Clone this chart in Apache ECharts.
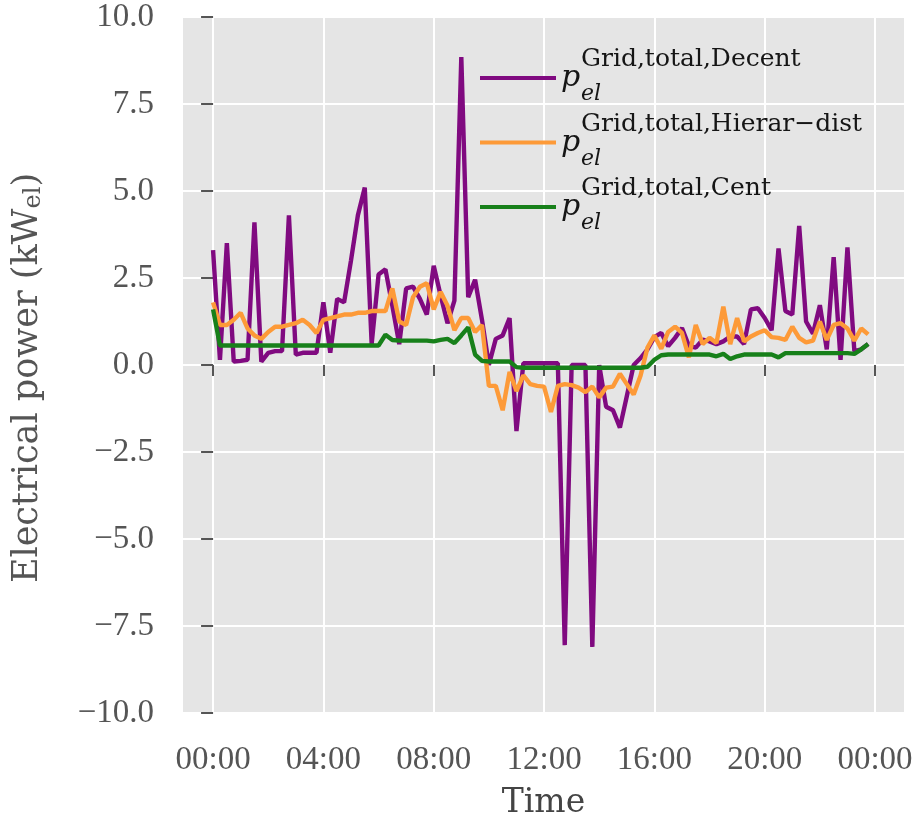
<!DOCTYPE html>
<html>
<head>
<meta charset="utf-8">
<script src="https://cdn.jsdelivr.net/npm/echarts@6/dist/echarts.min.js"></script>
<style>
  html, body { margin: 0; padding: 0; background: #ffffff; }
  #chart { width: 919px; height: 825px; }
</style>
</head>
<body>
<div id="chart"></div>
<script>
// Grid exchange over one day, 15-minute resolution (96 steps), in kW_el
const stepHours = 0.25;

const decent = [
  3.3, 0.15, 3.5, 0.1, 0.12, 0.15, 4.1, 0.1, 0.35, 0.4,
  0.4, 4.3, 0.3, 0.35, 0.35, 0.35, 1.8, 0.35, 1.9, 1.8,
  3.0, 4.3, 5.1, 0.6, 2.6, 2.75, 1.7, 0.6, 2.2, 2.25,
  1.9, 1.45, 2.85, 2.0, 1.2, 1.85, 8.85, 1.95, 2.45, 1.3,
  0.0, 0.75, 0.85, 1.35, -1.9, 0.05, 0.05, 0.05, 0.05, 0.05,
  0.05, -8.05, 0.0, 0.0, 0.0, -8.1, 0.0, -1.2, -1.3, -1.8,
  -0.9, 0.0, 0.2, 0.45, 0.8, 0.92, 0.54, 0.78, 1.06, 0.55,
  0.5, 0.73, 0.68, 0.6, 0.68, 0.82, 0.82, 0.6, 1.6, 1.63,
  1.35, 1.0, 3.35, 1.55, 1.45, 4.0, 1.25, 0.9, 1.72, 0.45,
  3.1, 0.15, 3.38, 0.4, 0.45, 0.6
];

const hierarDist = [
  1.8, 1.15, 1.15, 1.3, 1.5, 1.05, 0.85, 0.75, 0.95, 1.1,
  1.1, 1.15, 1.2, 1.3, 1.15, 0.92, 1.3, 1.35, 1.4, 1.45,
  1.45, 1.5, 1.5, 1.55, 1.55, 1.55, 2.2, 1.25, 1.15, 1.95,
  2.25, 2.35, 1.6, 2.1, 1.7, 1.0, 1.35, 1.35, 0.95, 1.15,
  -0.6, -0.6, -1.3, -0.2, -0.75, -0.3, -0.55, -0.6, -0.62, -1.35,
  -0.6, -0.55, -0.58, -0.65, -0.78, -0.62, -0.93, -0.65, -0.62, -0.25,
  -0.55, -0.85, -0.3, 0.5, 0.85, 0.47, 0.95, 1.1, 0.92, 0.22,
  1.15, 0.6, 0.78, 0.63, 1.68, 0.6, 1.35, 0.68, 0.82, 0.92,
  1.0, 0.8, 0.78, 0.72, 1.1, 0.78, 0.65, 0.7, 1.25, 0.72,
  1.15, 1.2, 1.05, 0.7, 1.05, 0.88
];

const cent = [
  1.6, 0.56, 0.56, 0.56, 0.56, 0.56, 0.56, 0.56, 0.56, 0.56,
  0.56, 0.56, 0.56, 0.56, 0.56, 0.56, 0.56, 0.56, 0.56, 0.56,
  0.56, 0.56, 0.56, 0.56, 0.56, 0.87, 0.72, 0.7, 0.7, 0.7,
  0.7, 0.7, 0.68, 0.72, 0.75, 0.63, 0.85, 1.08, 0.3, 0.12,
  0.1, 0.1, 0.1, 0.1, -0.06, -0.08, -0.08, -0.08, -0.08, -0.08,
  -0.08, -0.08, -0.08, -0.08, -0.08, -0.08, -0.08, -0.08, -0.08, -0.08,
  -0.08, -0.08, -0.08, -0.05, 0.15, 0.28, 0.3, 0.3, 0.3, 0.3,
  0.3, 0.3, 0.3, 0.25, 0.32, 0.17, 0.25, 0.3, 0.3, 0.3,
  0.3, 0.3, 0.22, 0.34, 0.34, 0.34, 0.34, 0.34, 0.34, 0.34,
  0.34, 0.34, 0.34, 0.32, 0.45, 0.6
];

const seriesNames = ['Decent', 'Hierar\u2212dist', 'Cent'];
const seriesColors = ['#800a80', '#fd9a38', '#17801a'];

const tickHours = [0, 4, 8, 12, 16, 20, 24];
const tickLabels = ['00:00', '04:00', '08:00', '12:00', '16:00', '20:00', '00:00'];

const numFont = '"Liberation Serif", serif';
const textFont = '"DejaVu Serif", serif';

function toPairs(values) {
  return values.map((v, i) => [i * stepHours, v]);
}

const chart = echarts.init(document.getElementById('chart'), null, { renderer: 'canvas' });

chart.setOption({
  backgroundColor: '#ffffff',
  animation: false,
  grid: {
    left: 183, right: 15, top: 17, bottom: 105,
    show: true, backgroundColor: '#e5e5e5', borderWidth: 0
  },
  legend: {
    orient: 'vertical',
    left: 480, top: 47,
    padding: 0,
    itemGap: 6,
    itemWidth: 76, itemHeight: 4,
    icon: 'rect',
    data: seriesNames,
    // superscript row, symbol row, subscript row
    formatter: name => `{sp|}{sup|Grid,total,${name}}\n{p|p}\n{sp|}{sub|el}`,
    textStyle: {
      color: '#151515',
      padding: [0, 0, 5, 0],
      rich: {
        sp: { width: 20, lineHeight: 16 },
        sup: { fontFamily: textFont, fontSize: 25, lineHeight: 22, color: '#151515' },
        p: { fontFamily: textFont, fontSize: 30, fontStyle: 'italic', lineHeight: 16, color: '#151515' },
        sub: { fontFamily: textFont, fontSize: 22, fontStyle: 'italic', lineHeight: 16, color: '#151515' }
      }
    }
  },
  xAxis: {
    type: 'value',
    min: -1.09, max: 25.05,
    offset: 4,
    axisLine: { show: false },
    axisTick: {
      show: true, length: 11, customValues: tickHours,
      lineStyle: { color: '#555555', width: 2 }
    },
    axisLabel: {
      customValues: tickHours,
      formatter: v => tickLabels[tickHours.indexOf(v)],
      fontFamily: numFont, fontSize: 33, color: '#555555', margin: 27
    },
    splitLine: { show: true, lineStyle: { color: '#ffffff', width: 2 } },
    name: 'Time',
    nameLocation: 'middle',
    nameGap: 70,
    nameTextStyle: { fontFamily: textFont, fontSize: 33, color: '#444444' }
  },
  yAxis: {
    type: 'value',
    min: -10, max: 10, interval: 2.5,
    offset: 4,
    axisLine: { show: false },
    axisTick: { show: true, length: 12, lineStyle: { color: '#555555', width: 2 } },
    axisLabel: {
      formatter: v => v.toFixed(1).replace('-', '\u2212'),
      fontFamily: numFont, fontSize: 33, color: '#555555', margin: 25
    },
    splitLine: { show: true, lineStyle: { color: '#ffffff', width: 2 } },
    name: 'Electrical power (kW{sub|el})',
    nameLocation: 'middle',
    nameGap: 133,
    nameTextStyle: {
      fontFamily: textFont, fontSize: 35, color: '#555555',
      padding: [0, 26, 0, 0],
      rich: {
        sub: { fontFamily: textFont, fontSize: 24, color: '#555555', padding: [12, 0, 0, 0] }
      }
    }
  },
  series: [decent, hierarDist, cent].map((vals, k) => ({
    name: seriesNames[k],
    type: 'line',
    data: toPairs(vals),
    symbol: 'none',
    color: seriesColors[k],
    lineStyle: { color: seriesColors[k], width: 4.4 },
    z: 2 + k
  }))
});
</script>
</body>
</html>
